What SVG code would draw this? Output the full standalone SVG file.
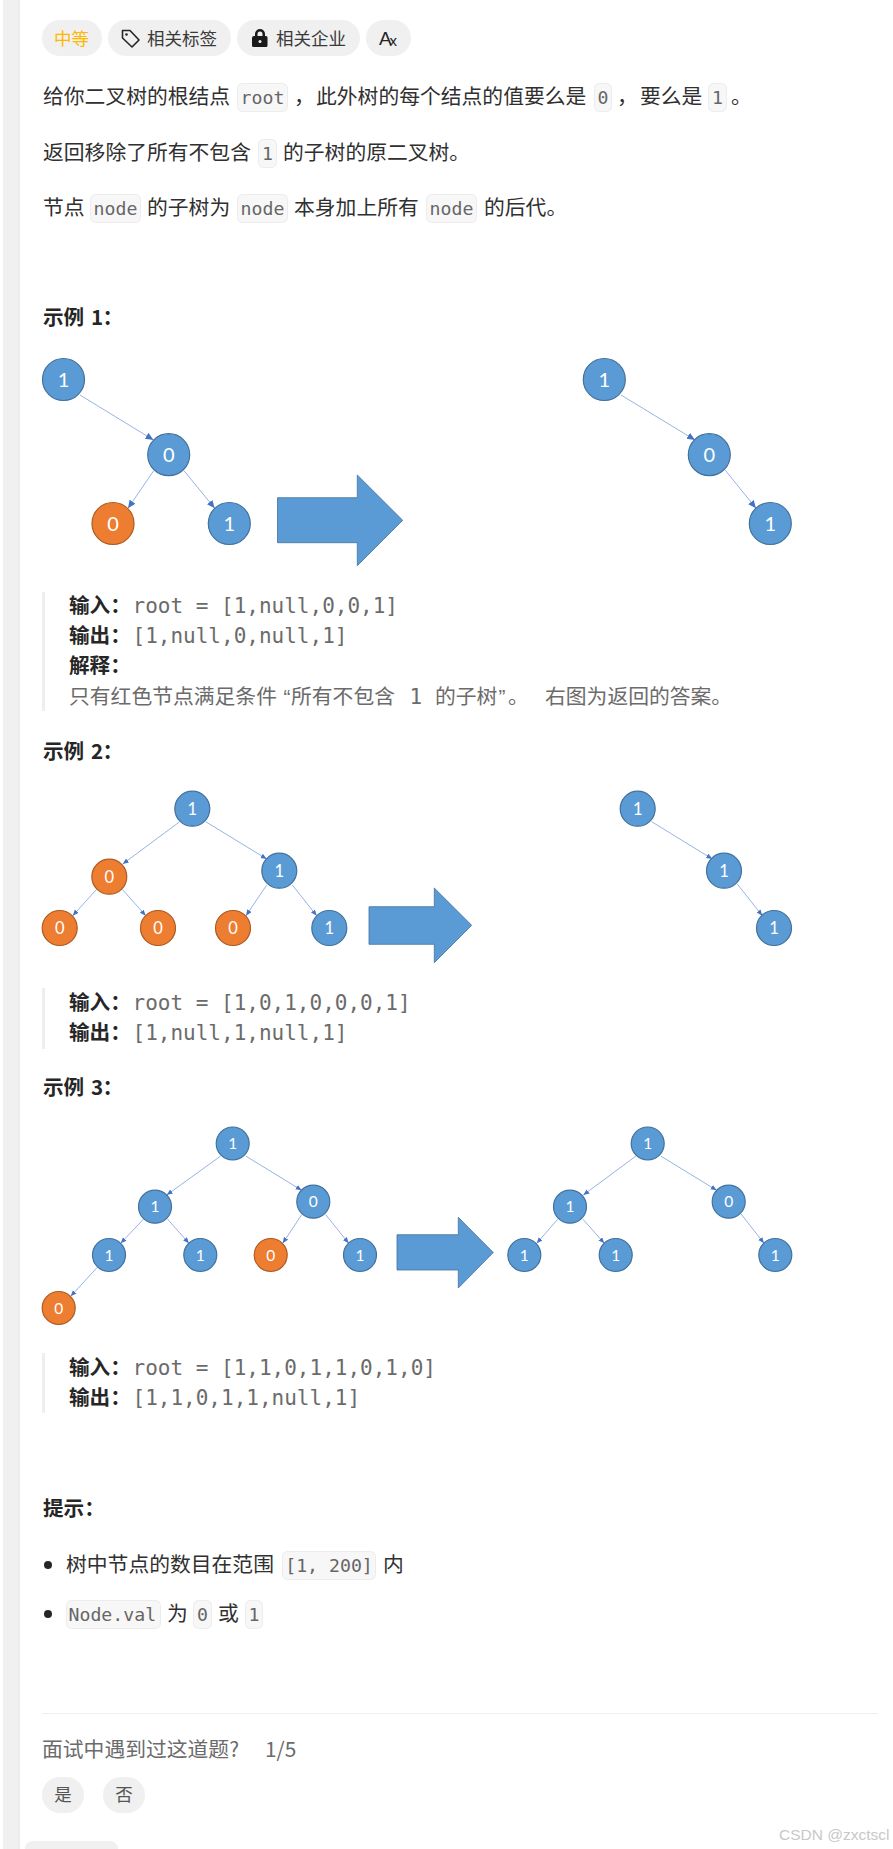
<svg xmlns="http://www.w3.org/2000/svg" width="893" height="1849" viewBox="0 0 893 1849">
<style>
text{font-family:"Noto Sans CJK SC","Liberation Sans",sans-serif;fill:#303030}
.p{font-size:20.8px}
.h{font-size:20.6px;font-weight:700;fill:#262626}
.b{font-size:20.6px;font-weight:700;fill:#262626}
.m{font-family:"DejaVu Sans Mono","Noto Sans CJK SC",monospace;font-size:18.2px;fill:#666}
.q{font-family:"DejaVu Sans Mono","Noto Sans CJK SC",monospace;font-size:21px;fill:#6b6b6b}
.g{font-size:20.8px;fill:#6b6b6b}
.c{fill:#f7f7f7;stroke:#ececec;stroke-width:1}
.pill{fill:#f0f0f0}
.t{font-size:17.5px;fill:#3a3a3a}
.bar{fill:#eeeeee}
.blue{fill:#5b9bd5;stroke:#41719c;stroke-width:1.2}
.org{fill:#ed7d31;stroke:#ae5a21;stroke-width:1.2}
.n{font-family:Lato,"Open Sans",sans-serif;fill:#fff;text-anchor:middle}
.n1{font-size:20px}.n2{font-size:16.5px}.n3{font-size:15.5px}
.e{stroke:#7c9fdf;stroke-width:.8;fill:none}
.e1{marker-end:url(#a1)}.e2{marker-end:url(#a2)}
.arr{fill:#5b9bd5;stroke:#41719c;stroke-width:.8}
</style>
<defs>
<marker id="a1" markerUnits="userSpaceOnUse" markerWidth="9" markerHeight="8" refX="8" refY="3.5" orient="auto"><path d="M0 0L8 3.5L0 7z" fill="#4472c4"/></marker>
<marker id="a2" markerUnits="userSpaceOnUse" markerWidth="7" markerHeight="6" refX="6" refY="2.5" orient="auto"><path d="M0 0L6 2.5L0 5z" fill="#4472c4"/></marker>
</defs>
<rect width="893" height="1849" fill="#fff"/>
<rect x="3" y="0" width="15.5" height="1849" fill="#f0f0f0"/>
<rect x="18.5" y="0" width="1" height="1849" fill="#dedede"/>

<g id="toolbar">
<rect class="pill" x="42" y="20" width="60" height="36" rx="18"/>
<text x="54" y="45" class="t" style="fill:#ffb800">中等</text>
<rect class="pill" x="108" y="20" width="123" height="36" rx="18"/>
<path d="M122.500 30.500h7.500l9 9.500-7 7-9.500-9z" fill="none" stroke="#262626" stroke-width="1.600" stroke-linejoin="round"/>
<circle cx="126.500" cy="34.500" r="1.300" fill="#262626"/>
<text x="147" y="45" class="t">相关标签</text>
<rect class="pill" x="237" y="20" width="123" height="36" rx="18"/>
<path d="M252 38a2 2 0 0 1 2-2h1v-2a5 5 0 0 1 10 0v2h1a1.500 1.500 0 0 1 1.500 1.500v8a1.500 1.500 0 0 1-1.500 1.500h-12.500a1.500 1.500 0 0 1-1.500-1.500zM257.500 36h5v-2a2.500 2.500 0 0 0-5 0z" fill="#1a1a1a" fill-rule="evenodd"/>
<circle cx="260" cy="41.500" r="1.500" fill="#f0f0f0"/>
<text x="276" y="45" class="t">相关企业</text>
<rect class="pill" x="366" y="20" width="45" height="36" rx="18"/>
<text x="379" y="45" style="font-family:'Liberation Sans',sans-serif;font-size:19px;fill:#262626">A</text>
<text x="389.500" y="46" style="font-family:'Liberation Sans',sans-serif;font-size:15px;fill:#262626">x</text>
</g>

<g id="intro">
<text x="43" y="104" class="p">给你二叉树的根结点</text>
<rect class="c" x="237.500" y="83.500" width="50" height="28" rx="5"/><text x="240.600" y="104" class="m">root</text>
<text x="294" y="104" class="p">，</text>
<text x="316" y="104" class="p">此外树的每个结点的值要么是</text>
<rect class="c" x="594.500" y="83.500" width="17" height="28" rx="5"/><text x="597.500" y="104" class="m">0</text>
<text x="617" y="104" class="p">，</text>
<text x="640" y="104" class="p">要么是</text>
<rect class="c" x="708.500" y="83.500" width="18" height="28" rx="5"/><text x="712" y="104" class="m">1</text>
<text x="731" y="104" class="p">。</text>

<text x="43" y="160" class="p">返回移除了所有不包含</text>
<rect class="c" x="258.500" y="139.500" width="18" height="28" rx="5"/><text x="262" y="160" class="m">1</text>
<text x="283" y="160" class="p">的子树的原二叉树。</text>

<text x="43" y="215" class="p">节点</text>
<rect class="c" x="90.500" y="194.500" width="50" height="28" rx="5"/><text x="93.600" y="215" class="m">node</text>
<text x="147" y="215" class="p">的子树为</text>
<rect class="c" x="237.500" y="194.500" width="50" height="28" rx="5"/><text x="240.600" y="215" class="m">node</text>
<text x="294" y="215" class="p">本身加上所有</text>
<rect class="c" x="426.500" y="194.500" width="50" height="28" rx="5"/><text x="429.600" y="215" class="m">node</text>
<text x="484" y="215" class="p">的后代。</text>
</g>

<g id="title1"><text x="43" y="325" class="h">示例</text><text x="91" y="325" class="h">1</text><text x="102.500" y="325" class="h">：</text></g>

<g id="connectors">
<line class="e e1" x1="80" y1="395" x2="153.500" y2="440"/>
<line class="e e1" x1="153.700" y1="470.700" x2="128" y2="508.300"/>
<line class="e e1" x1="184" y1="470.700" x2="214.700" y2="508.300"/>
<line class="e e1" x1="621" y1="395" x2="695" y2="440"/>
<line class="e e1" x1="725.300" y1="470.300" x2="756" y2="508.300"/>
<line class="e e2" x1="179.300" y1="822" x2="122.700" y2="864"/>
<line class="e e2" x1="205.700" y1="821.700" x2="266.700" y2="859"/>
<line class="e e2" x1="96.700" y1="889.300" x2="72.700" y2="915.700"/>
<line class="e e2" x1="122.300" y1="889.300" x2="145.700" y2="915.700"/>
<line class="e e2" x1="266.700" y1="885" x2="246" y2="915.700"/>
<line class="e e2" x1="292.300" y1="885" x2="316.700" y2="915.700"/>
<line class="e e2" x1="651.700" y1="821.700" x2="712.300" y2="859"/>
<line class="e e2" x1="737.300" y1="884" x2="762.300" y2="915.700"/>
<line class="e e2" x1="220.700" y1="1156" x2="166.700" y2="1195"/>
<line class="e e2" x1="245.700" y1="1156" x2="301.700" y2="1190.300"/>
<line class="e e2" x1="143.300" y1="1219.300" x2="120.700" y2="1243.300"/>
<line class="e e2" x1="167.700" y1="1219.300" x2="189" y2="1243.300"/>
<line class="e e2" x1="301.700" y1="1214.700" x2="282.700" y2="1243.300"/>
<line class="e e2" x1="325.700" y1="1214.700" x2="348.700" y2="1243.300"/>
<line class="e e2" x1="97.300" y1="1267.300" x2="70.700" y2="1296.300"/>
<line class="e e2" x1="636" y1="1156" x2="583.300" y2="1195"/>
<line class="e e2" x1="660.700" y1="1156" x2="716.700" y2="1190.300"/>
<line class="e e2" x1="557.700" y1="1219.300" x2="536.700" y2="1243.300"/>
<line class="e e2" x1="583" y1="1219.300" x2="604.300" y2="1243.300"/>
<line class="e e2" x1="741" y1="1214" x2="764" y2="1243.300"/>
</g>

<g id="ex1-a"><circle class="blue" cx="63.500" cy="379.500" r="21"/><text class="n n1" x="63.500" y="386.500">1</text></g>
<g id="ex1-b"><circle class="blue" cx="168.700" cy="454.700" r="21"/><text class="n n1" x="168.700" y="461.700">0</text></g>
<g id="ex1-c"><circle class="org" cx="113" cy="523.500" r="21"/><text class="n n1" x="113" y="530.500">0</text></g>
<g id="ex1-d"><circle class="blue" cx="229.300" cy="523.500" r="21"/><text class="n n1" x="229.300" y="530.500">1</text></g>
<polygon id="ex1-arrow" class="arr" points="277.500,497.700 357.300,497.700 357.300,475 402.700,520.300 357.300,565.700 357.300,542.700 277.500,542.700"/>
<g id="ex1-e"><circle class="blue" cx="604.300" cy="379.500" r="21"/><text class="n n1" x="604.300" y="386.500">1</text></g>
<g id="ex1-f"><circle class="blue" cx="709.300" cy="454.700" r="21"/><text class="n n1" x="709.300" y="461.700">0</text></g>
<g id="ex1-g"><circle class="blue" cx="770.300" cy="523.500" r="21"/><text class="n n1" x="770.300" y="530.500">1</text></g>

<g id="quote1">
<rect class="bar" x="42" y="592" width="3" height="119"/>
<text x="69" y="613" class="b">输入：</text><text x="132.500" y="613" class="q">root = [1,null,0,0,1]</text>
<text x="69" y="643" class="b">输出：</text><text x="132.500" y="643" class="q">[1,null,0,null,1]</text>
<text x="69" y="673" class="b">解释：</text>
<text x="69" y="704" class="g">只有红色节点满足条件</text>
<text x="283.500" y="704" class="g" style="font-family:'Liberation Sans',sans-serif">“</text>
<text x="291" y="704" class="g">所有不包含</text>
<text x="409.500" y="704" class="q">1</text>
<text x="435" y="704" class="g">的子树</text>
<text x="498.500" y="704" class="g" style="font-family:'Liberation Sans',sans-serif">”</text>
<text x="508" y="704" class="g">。</text>
<text x="545" y="704" class="g">右图为返回的答案。</text>
</g>

<g id="title2"><text x="43" y="759" class="h">示例</text><text x="91" y="759" class="h">2</text><text x="102.500" y="759" class="h">：</text></g>

<g id="ex2-a"><circle class="blue" cx="192.300" cy="808.700" r="17.500"/><text class="n n2" x="192.300" y="814.500">1</text></g>
<g id="ex2-b"><circle class="org" cx="109.300" cy="876.700" r="17.500"/><text class="n n2" x="109.300" y="882.500">0</text></g>
<g id="ex2-c"><circle class="blue" cx="279.300" cy="870.700" r="17.500"/><text class="n n2" x="279.300" y="876.500">1</text></g>
<g id="ex2-d"><circle class="org" cx="59.700" cy="928" r="17.500"/><text class="n n2" x="59.700" y="933.800">0</text></g>
<g id="ex2-e"><circle class="org" cx="158" cy="928" r="17.500"/><text class="n n2" x="158" y="933.800">0</text></g>
<g id="ex2-f"><circle class="org" cx="233" cy="928" r="17.500"/><text class="n n2" x="233" y="933.800">0</text></g>
<g id="ex2-g"><circle class="blue" cx="329.300" cy="928" r="17.500"/><text class="n n2" x="329.300" y="933.800">1</text></g>
<polygon id="ex2-arrow" class="arr" points="369,906.700 434.300,906.700 434.300,888 471.700,925.300 434.300,962.700 434.300,944.300 369,944.300"/>
<g id="ex2-h"><circle class="blue" cx="637.700" cy="808.700" r="17.500"/><text class="n n2" x="637.700" y="814.500">1</text></g>
<g id="ex2-i"><circle class="blue" cx="724" cy="870.700" r="17.500"/><text class="n n2" x="724" y="876.500">1</text></g>
<g id="ex2-j"><circle class="blue" cx="774" cy="928" r="17.500"/><text class="n n2" x="774" y="933.800">1</text></g>

<g id="quote2">
<rect class="bar" x="42" y="988" width="3" height="61"/>
<text x="69" y="1010" class="b">输入：</text><text x="132.500" y="1010" class="q">root = [1,0,1,0,0,0,1]</text>
<text x="69" y="1040" class="b">输出：</text><text x="132.500" y="1040" class="q">[1,null,1,null,1]</text>
</g>

<g id="title3"><text x="43" y="1095" class="h">示例</text><text x="91" y="1095" class="h">3</text><text x="102.500" y="1095" class="h">：</text></g>

<g id="ex3-a"><circle class="blue" cx="232.700" cy="1143.500" r="16.500"/><text class="n n3" x="232.700" y="1149">1</text></g>
<g id="ex3-b"><circle class="blue" cx="155" cy="1206.700" r="16.500"/><text class="n n3" x="155" y="1212.200">1</text></g>
<g id="ex3-c"><circle class="blue" cx="313.300" cy="1201.700" r="16.500"/><text class="n n3" x="313.300" y="1207.200">0</text></g>
<g id="ex3-d"><circle class="blue" cx="109" cy="1255" r="16.500"/><text class="n n3" x="109" y="1260.500">1</text></g>
<g id="ex3-e"><circle class="blue" cx="200.300" cy="1255" r="16.500"/><text class="n n3" x="200.300" y="1260.500">1</text></g>
<g id="ex3-f"><circle class="org" cx="270.700" cy="1255" r="16.500"/><text class="n n3" x="270.700" y="1260.500">0</text></g>
<g id="ex3-g"><circle class="blue" cx="360" cy="1255" r="16.500"/><text class="n n3" x="360" y="1260.500">1</text></g>
<g id="ex3-h"><circle class="org" cx="58.700" cy="1308" r="16.500"/><text class="n n3" x="58.700" y="1313.500">0</text></g>
<polygon id="ex3-arrow" class="arr" points="397,1234.700 458.300,1234.700 458.300,1217.300 493.300,1252.500 458.300,1288 458.300,1270 397,1270"/>
<g id="ex3-i"><circle class="blue" cx="647.700" cy="1143.500" r="16.500"/><text class="n n3" x="647.700" y="1149">1</text></g>
<g id="ex3-j"><circle class="blue" cx="570" cy="1206.700" r="16.500"/><text class="n n3" x="570" y="1212.200">1</text></g>
<g id="ex3-k"><circle class="blue" cx="728.700" cy="1201.700" r="16.500"/><text class="n n3" x="728.700" y="1207.200">0</text></g>
<g id="ex3-l"><circle class="blue" cx="524.300" cy="1255" r="16.500"/><text class="n n3" x="524.300" y="1260.500">1</text></g>
<g id="ex3-m"><circle class="blue" cx="615.700" cy="1255" r="16.500"/><text class="n n3" x="615.700" y="1260.500">1</text></g>
<g id="ex3-n"><circle class="blue" cx="775.300" cy="1255" r="16.500"/><text class="n n3" x="775.300" y="1260.500">1</text></g>

<g id="quote3">
<rect class="bar" x="42" y="1353" width="3" height="60"/>
<text x="69" y="1375" class="b">输入：</text><text x="132.500" y="1375" class="q">root = [1,1,0,1,1,0,1,0]</text>
<text x="69" y="1405" class="b">输出：</text><text x="132.500" y="1405" class="q">[1,1,0,1,1,null,1]</text>
</g>

<g id="hints">
<text x="43" y="1516" class="h">提示：</text>
<circle cx="48" cy="1565" r="4" fill="#262626"/>
<text x="66" y="1572" class="p">树中节点的数目在范围</text>
<rect class="c" x="282.500" y="1551.500" width="93" height="28" rx="5"/><text x="285.200" y="1572" class="m">[1, 200]</text>
<text x="383" y="1572" class="p">内</text>
<circle cx="48" cy="1614" r="4" fill="#262626"/>
<rect class="c" x="66.500" y="1600.500" width="94" height="28" rx="5"/><text x="68.500" y="1621" class="m">Node.val</text>
<text x="167" y="1621" class="p">为</text>
<rect class="c" x="193.500" y="1600.500" width="18" height="28" rx="5"/><text x="197" y="1621" class="m">0</text>
<text x="218" y="1621" class="p">或</text>
<rect class="c" x="245.500" y="1600.500" width="17" height="28" rx="5"/><text x="248.500" y="1621" class="m">1</text>
</g>

<g id="footer">
<rect x="42" y="1713" width="836" height="1" fill="#efefef"/>
<text x="42" y="1757" class="g">面试中遇到过这道题?</text>
<text x="265" y="1757" class="g">1/5</text>
<rect class="pill" x="42" y="1777" width="42" height="36" rx="18"/>
<text x="63" y="1801" class="t" text-anchor="middle" style="fill:#555">是</text>
<rect class="pill" x="103" y="1777" width="42" height="36" rx="18"/>
<text x="124" y="1801" class="t" text-anchor="middle" style="fill:#555">否</text>
<path d="M25 1849a8 8 0 0 1 8-8h77a8 8 0 0 1 8 8z" fill="#f0f0f0"/>
<text x="779" y="1840" style="font-family:'Liberation Sans',sans-serif;font-size:15.500px;fill:#c8c8c8">CSDN @zxctscl</text>
</g>
</svg>
